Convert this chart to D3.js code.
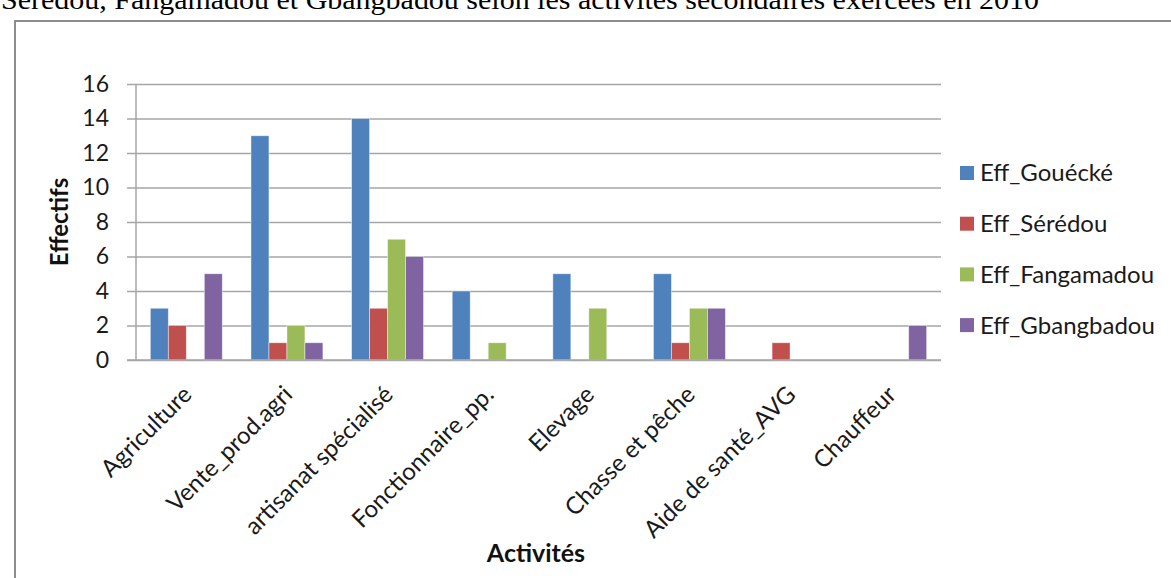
<!DOCTYPE html>
<html>
<head>
<meta charset="utf-8">
<script src="https://cdn.jsdelivr.net/npm/d3@7"></script>
<style>
  html, body { margin: 0; padding: 0; background: #fff; }
  svg { display: block; }
</style>
</head>
<body>
<svg id="chart" width="1171" height="578"></svg>
<script>
const titleText = "Sérédou, Fangamadou et Gbangbadou  selon les activités  secondaires exercées en 2010";
const categories = ["Agriculture", "Vente_prod.agri", "artisanat spécialisé", "Fonctionnaire_pp.", "Elevage", "Chasse et pêche", "Aide de santé_AVG", "Chauffeur"];
const seriesNames = ["Eff_Gouécké", "Eff_Sérédou", "Eff_Fangamadou", "Eff_Gbangbadou"];
const gouecke    = [3, 13, 14, 4, 5, 5, 0, 0];
const seredou    = [2, 1, 3, 0, 0, 1, 1, 0];
const fangamadou = [0, 2, 7, 1, 3, 3, 0, 0];
const gbangbadou = [5, 1, 6, 0, 0, 3, 0, 2];
const yTicks = [0, 2, 4, 6, 8, 10, 12, 14, 16];
const colors = ["#4F81BD", "#C0504D", "#9BBB59", "#8064A2"];
const yTitle = "Effectifs";
const xTitle = "Activités";

const seriesValues = [gouecke, seredou, fangamadou, gbangbadou];
const data = categories.map((c, i) => ({ cat: c, vals: seriesValues.map(s => s[i]) }));

const svg = d3.select("#chart");
const font = "Lato, 'Open Sans', sans-serif";
const textCol = "#1a1a1a";

// title (cut at top, as in the source)
svg.append("text")
  .attr("x", 1).attr("y", 9)
  .attr("font-family", "'Liberation Serif', 'Times New Roman', serif")
  .attr("font-size", 27)
  .attr("textLength", 1038)
  .attr("lengthAdjust", "spacingAndGlyphs")
  .attr("fill", "#000")
  .text(titleText);

// frame
svg.append("rect")
  .attr("x", 15).attr("y", 21)
  .attr("width", 1200).attr("height", 600)
  .attr("fill", "none")
  .attr("stroke", "#8c8c8c")
  .attr("stroke-width", 2);

const pLeft = 136, pRight = 941, pTop = 84, pBottom = 360;

const x0 = d3.scaleBand().domain(categories).range([pLeft, pRight])
  .paddingInner(0.285).paddingOuter(0.1425);
const x1 = d3.scaleBand().domain(d3.range(seriesNames.length)).range([0, x0.bandwidth()]);
const y = d3.scaleLinear().domain([0, 16]).range([pBottom, pTop]);

// gridlines
const yAxis = d3.axisLeft(y).tickValues(yTicks).tickSize(-(pRight - pLeft)).tickPadding(27);
const gy = svg.append("g").attr("transform", `translate(${pLeft},0)`).call(yAxis);
gy.select(".domain").remove();
gy.selectAll(".tick line").attr("stroke", "#a6a6a6").attr("stroke-width", 1.5).attr("x1", -9);
gy.selectAll(".tick text")
  .attr("font-family", font).attr("font-size", 23).attr("fill", textCol);

// y axis line
svg.append("line")
  .attr("x1", pLeft).attr("x2", pLeft).attr("y1", pTop).attr("y2", pBottom)
  .attr("stroke", "#a6a6a6").attr("stroke-width", 1.5);

// bars
const groups = svg.append("g").selectAll("g").data(data).join("g")
  .attr("transform", d => `translate(${x0(d.cat)},0)`);
groups.selectAll("rect")
  .data(d => d.vals.map((v, i) => ({ v, i })).filter(e => e.v > 0))
  .join("rect")
  .attr("x", d => x1(d.i))
  .attr("y", d => y(d.v))
  .attr("width", x1.bandwidth())
  .attr("height", d => y(0) - y(d.v))
  .attr("fill", d => colors[d.i])
  .attr("stroke", "rgba(255,255,255,0.55)")
  .attr("stroke-width", 0.8);

// x axis line
svg.append("line")
  .attr("x1", pLeft - 9).attr("x2", pRight).attr("y1", pBottom).attr("y2", pBottom)
  .attr("stroke", "#a6a6a6").attr("stroke-width", 1.5);

// x labels
svg.append("g").selectAll("text").data(categories).join("text")
  .attr("transform", d => `translate(${x0(d) + x0.bandwidth() / 2 + 7},396) rotate(-45)`)
  .attr("text-anchor", "end")
  .attr("font-family", font).attr("font-size", 24).attr("fill", textCol)
  .text(d => d);

// axis titles
svg.append("text")
  .attr("x", 536).attr("y", 562)
  .attr("text-anchor", "middle")
  .attr("font-family", font).attr("font-size", 25).attr("font-weight", "bold").attr("fill", "#111")
  .text(xTitle);
svg.append("text")
  .attr("transform", "translate(68,222) rotate(-90)")
  .attr("text-anchor", "middle")
  .attr("font-family", font).attr("font-size", 24).attr("font-weight", "bold").attr("fill", "#111")
  .text(yTitle);

// legend
const legend = svg.append("g").selectAll("g").data(seriesNames).join("g")
  .attr("transform", (d, i) => `translate(960,${173 + i * 50.7})`);
legend.append("rect")
  .attr("x", 0).attr("y", -7).attr("width", 14).attr("height", 14)
  .attr("fill", (d, i) => colors[i]);
legend.append("text")
  .attr("x", 20).attr("y", 0).attr("dy", "0.35em")
  .attr("font-family", font).attr("font-size", 24).attr("fill", textCol)
  .text(d => d);
</script>
</body>
</html>
